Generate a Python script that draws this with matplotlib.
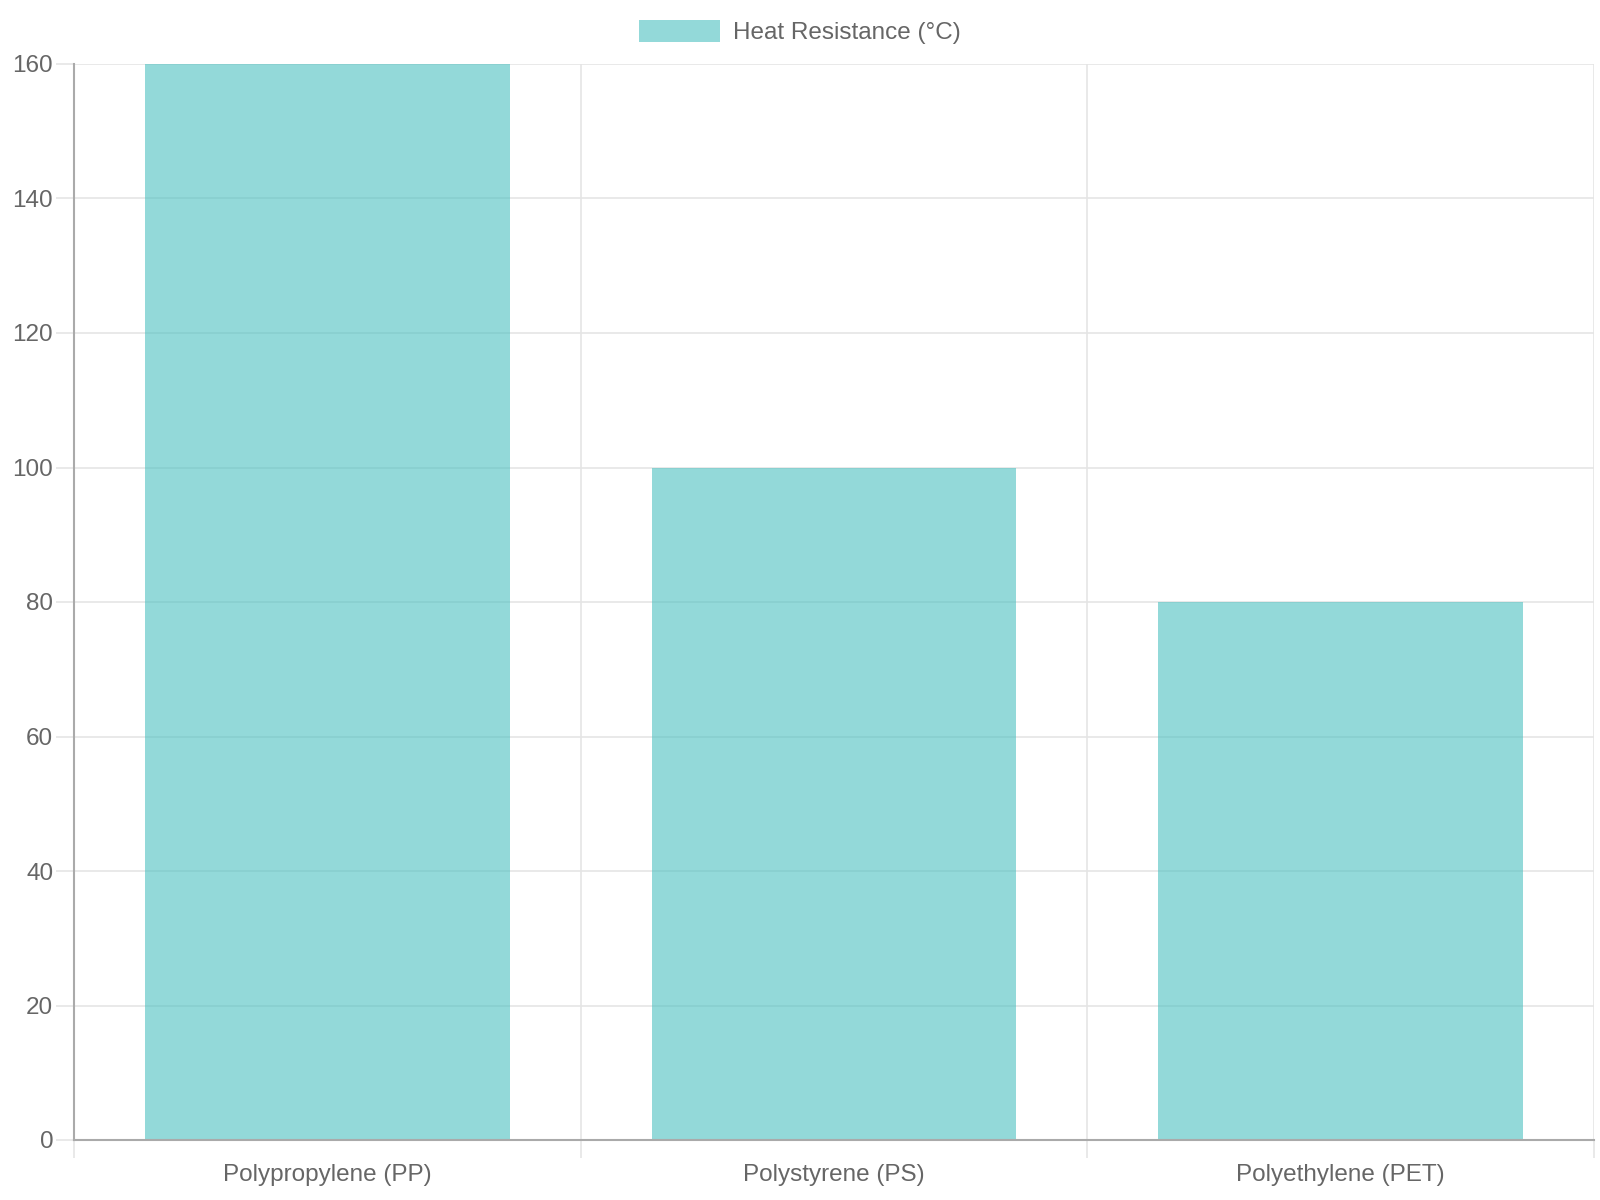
import matplotlib
matplotlib.use("Agg")
import matplotlib.pyplot as plt
from matplotlib.patches import Patch

# data
materials = ["Polypropylene (PP)", "Polystyrene (PS)", "Polyethylene (PET)"]
heat_resistance = [160, 100, 80]
series_name = "Heat Resistance (°C)"
y_ticks = [0, 20, 40, 60, 80, 100, 120, 140, 160]

plt.rcParams['font.family'] = ['Liberation Sans', 'DejaVu Sans']

text_col = "#666666"
grid_col = "#e5e5e5"
axis_col = "#aaaaaa"
bar_col = (75/255, 192/255, 192/255, 0.6)
fs = 17.5

fig = plt.figure(figsize=(16, 12), dpi=100)
ax = fig.add_axes([74/1600, 60/1200, 1520/1600, 1076/1200])

x = list(range(len(materials)))
ax.bar(x, heat_resistance, width=0.72, color=bar_col, zorder=2)

ax.set_xlim(-0.5, len(materials) - 0.5)
ax.set_ylim(0, 160)

# horizontal grid
ax.set_yticks(y_ticks)
ax.yaxis.grid(True, color=grid_col, linewidth=1.2, zorder=0)
ax.tick_params(axis="y", length=13, width=1.2, color=grid_col, pad=2,
               labelsize=fs, labelcolor=text_col)

# vertical grid on category boundaries, labels in the middle
ax.set_xticks(x)
ax.set_xticklabels(materials)
ax.set_xticks([i - 0.5 for i in range(len(materials) + 1)], minor=True)
ax.xaxis.grid(True, which="minor", color=grid_col, linewidth=1.2, zorder=0)
ax.tick_params(axis="x", which="major", length=0, pad=17,
               labelsize=fs, labelcolor=text_col)
ax.tick_params(axis="x", which="minor", length=13, width=1.2, color=grid_col)

for s in ["top", "right"]:
    ax.spines[s].set_visible(False)
for s in ["left", "bottom"]:
    ax.spines[s].set_color(axis_col)
    ax.spines[s].set_linewidth(1.5)
ax.set_axisbelow(True)

handle = Patch(facecolor=bar_col, edgecolor="none")
fig.legend([handle], [series_name], loc="center", bbox_to_anchor=(0.5, 1 - 32/1200),
           frameon=False, fontsize=fs, labelcolor=text_col,
           handlelength=3.3, handleheight=1.0, handletextpad=0.55)

fig.savefig("out.png", dpi=100, facecolor="white")
